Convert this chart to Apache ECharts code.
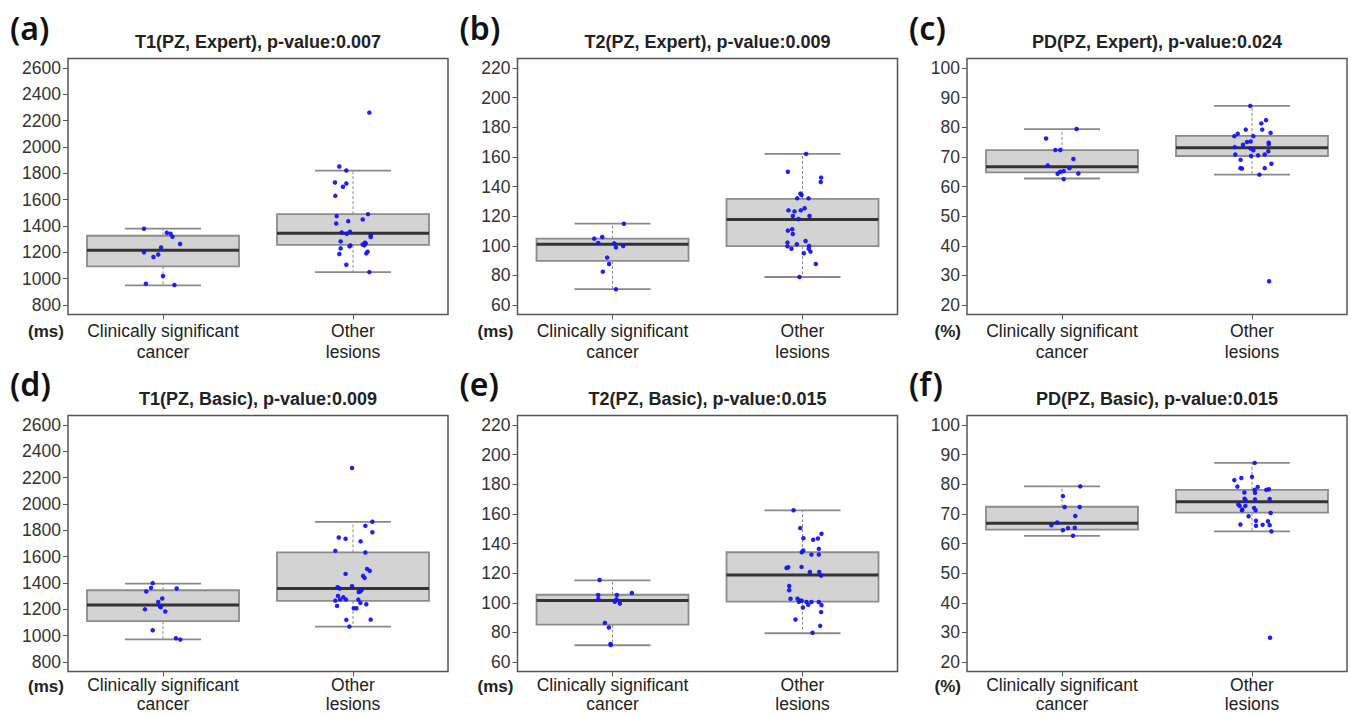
<!DOCTYPE html>
<html>
<head>
<meta charset="utf-8">
<script src="https://cdn.jsdelivr.net/npm/echarts@6/dist/echarts.min.js"></script>
<style>
html,body{margin:0;padding:0;background:#ffffff;}
#chart{width:1351px;height:715px;}
</style>
</head>
<body>
<div id="chart"></div>
<script>
// ---------------- DATA ----------------
const categories = ['Clinically significant\ncancer', 'Other\nlesions'];
const panelLetters = ['(a)', '(b)', '(c)', '(d)', '(e)', '(f)'];
const panelTitles = [
  'T1(PZ, Expert), p-value:0.007',
  'T2(PZ, Expert), p-value:0.009',
  'PD(PZ, Expert), p-value:0.024',
  'T1(PZ, Basic), p-value:0.009',
  'T2(PZ, Basic), p-value:0.015',
  'PD(PZ, Basic), p-value:0.015'
];
const unitLabels = ['(ms)', '(ms)', '(%)', '(ms)', '(ms)', '(%)'];
const yMin = [800, 60, 20, 800, 60, 20];
const yMax = [2600, 220, 100, 2600, 220, 100];
const yStep = [200, 20, 10, 200, 20, 10];

// box statistics [lower whisker, Q1, median, Q3, upper whisker]
const boxT1ExpertCancer = [949, 1094, 1216, 1326, 1380];
const boxT1ExpertOther  = [1050, 1257, 1344, 1490, 1820];
const boxT2ExpertCancer = [70.7, 89.8, 101.0, 104.8, 114.9];
const boxT2ExpertOther  = [78.9, 99.7, 117.8, 131.6, 162.0];
const boxPDExpertCancer = [62.7, 64.8, 66.7, 72.3, 79.4];
const boxPDExpertOther  = [64.0, 70.3, 73.1, 77.1, 87.2];
const boxT1BasicCancer  = [972, 1110, 1232, 1345, 1396];
const boxT1BasicOther   = [1069, 1264, 1359, 1632, 1865];
const boxT2BasicCancer  = [71.3, 85.2, 101.6, 105.4, 115.1];
const boxT2BasicOther   = [79.4, 100.7, 118.8, 134.1, 162.4];
const boxPDBasicCancer  = [62.6, 64.7, 66.8, 72.4, 79.3];
const boxPDBasicOther   = [64.1, 70.4, 74.1, 78.1, 87.2];

// individual lesions (values) and their horizontal jitter (category units)
const t1ExpertCancer = [1379, 1349, 1341, 1318, 1263, 1237, 1200, 1184, 1164, 1020, 962, 952];
const t1ExpertCancerJit = [-0.10, 0.02, 0.04, 0.05, 0.09, -0.01, -0.10, -0.025, -0.05, 0.0, -0.09, 0.06];
const t1ExpertOther = [2261, 1852, 1821, 1730, 1723, 1698, 1629, 1490, 1475, 1450, 1437, 1419, 1351, 1356, 1341, 1328, 1316, 1283, 1253, 1245, 1273, 1260, 1253, 1268, 1230, 1205, 1192, 1187, 1106, 1050];
const t1ExpertOtherJit = [0.086, -0.072, -0.035, -0.095, -0.035, -0.053, -0.093, 0.079, -0.086, 0.051, -0.025, -0.088, -0.06, -0.016, -0.033, 0.093, 0.093, -0.065, -0.014, -0.018, 0.063, 0.051, 0.06, 0.067, -0.065, 0.077, 0.07, -0.072, -0.035, 0.086];

const t2ExpertCancer = [114.9, 104.8, 105.9, 101.9, 101.6, 98.9, 99.8, 92.0, 87.7, 82.5, 70.6];
const t2ExpertCancerJit = [0.06, -0.096, -0.054, -0.075, 0.009, 0.018, 0.056, -0.028, -0.018, -0.051, 0.018];
const t2ExpertOther = [162, 150.0, 146.0, 143.0, 135.2, 134.3, 132.0, 132.0, 123.9, 123.2, 123.9, 125.3, 120.1, 120.1, 118.1, 110.2, 111.1, 107.9, 102.1, 99.6, 101.0, 103.2, 98.0, 99.8, 98.0, 96.0, 94.9, 87.7, 78.9];
const t2ExpertOtherJit = [0.019, -0.077, 0.098, 0.096, -0.011, -0.005, -0.028, 0.032, -0.074, -0.042, -0.009, 0.011, -0.051, 0.037, -0.021, -0.077, -0.054, -0.051, -0.079, -0.079, -0.03, 0.016, -0.058, 0.035, 0.033, 0.042, 0.007, 0.07, -0.016];

const pdExpertCancer = [79.4, 76.2, 72.3, 72.3, 69.3, 67.1, 66.2, 65.2, 65.0, 64.3, 64.4, 62.5];
const pdExpertCancerJit = [0.077, -0.084, -0.035, -0.009, 0.06, -0.075, 0.039, 0.009, -0.009, -0.023, 0.086, 0.009];
const pdExpertOther = [87.2, 82.4, 81.3, 79.2, 79.2, 78.1, 77.8, 77.0, 77.0, 75.0, 75.2, 74.1, 74.8, 74.3, 73.3, 72.8, 72.2, 71.9, 70.8, 70.3, 70.5, 70.8, 69.0, 66.2, 66.1, 66.2, 67.7, 64.0, 28.0];
const pdExpertOtherJit = [-0.009, 0.074, 0.049, 0.054, -0.033, 0.098, -0.075, -0.093, 0.007, -0.026, -0.007, -0.047, 0.088, 0.088, -0.091, -0.007, 0.007, 0.086, -0.088, -0.005, 0.032, 0.067, -0.06, -0.061, -0.053, 0.067, 0.102, 0.039, 0.09];

const t1BasicCancer = [1399, 1363, 1335, 1358, 1282, 1256, 1223, 1216, 1200, 1183, 1041, 980, 970];
const t1BasicCancerJit = [-0.054, -0.063, -0.088, 0.072, -0.004, -0.025, -0.016, -0.012, -0.095, 0.012, -0.054, 0.068, 0.091];
const t1BasicOther = [2273, 1865, 1834, 1786, 1746, 1736, 1716, 1644, 1632, 1507, 1492, 1469, 1454, 1439, 1368, 1358, 1375, 1348, 1332, 1337, 1302, 1292, 1274, 1274, 1266, 1274, 1249, 1239, 1226, 1208, 1208, 1120, 1122, 1069];
const t1BasicOtherJit = [-0.005, 0.102, 0.065, 0.102, -0.075, -0.039, 0.04, -0.093, 0.065, 0.074, 0.088, -0.039, 0.053, 0.061, -0.081, -0.07, -0.005, 0.046, 0.03, 0.039, -0.079, -0.051, -0.037, -0.068, -0.093, 0.028, 0.039, 0.07, -0.084, 0.004, 0.018, -0.035, 0.093, -0.019];

const t2BasicCancer = [115.4, 105.2, 102.5, 105.2, 106.6, 102.3, 100.7, 101.4, 99.5, 86.4, 83.3, 72.2, 71.5];
const t2BasicCancerJit = [-0.068, -0.075, -0.075, 0.023, 0.102, 0.021, 0.012, 0.014, 0.039, -0.04, -0.019, -0.011, -0.009];
const t2BasicOther = [162.4, 150.4, 143.6, 146.6, 143.4, 142.5, 136.4, 135.3, 134.1, 132.5, 132.5, 123.5, 124.0, 124.2, 120.8, 120.8, 118.3, 111.3, 108.4, 102.7, 102.7, 101.4, 100.7, 101.4, 100.5, 98.6, 100.5, 100.5, 98.4, 96.8, 93.7, 88.7, 84.4, 79.7];
const t2BasicOtherJit = [-0.047, -0.012, 0.005, 0.1, 0.081, 0.056, 0.086, 0.004, -0.004, 0.047, 0.086, -0.084, -0.075, -0.005, 0.039, 0.088, 0.098, -0.07, -0.07, -0.063, -0.026, -0.011, -0.019, -0.004, 0.021, 0.03, 0.047, 0.086, 0.1, 0.002, 0.098, -0.037, 0.093, 0.053];

const pdBasicCancer = [79.3, 76.0, 72.3, 72.3, 69.3, 67.1, 66.2, 65.2, 65.3, 64.5, 62.6];
const pdBasicCancerJit = [0.096, 0.005, 0.014, 0.093, 0.07, -0.025, -0.056, 0.032, 0.067, 0.005, 0.058];
const pdBasicOther = [87.2, 81.4, 82.1, 82.5, 79.2, 79.1, 78.1, 78.1, 78.3, 77.2, 77.1, 75.1, 74.5, 74.9, 75.0, 73.2, 72.7, 71.5, 72.7, 72.0, 71.2, 71.2, 70.3, 69.2, 67.7, 67.5, 66.4, 66.0, 66.3, 66.2, 64.1, 28.2];
const pdBasicOtherJit = [0.014, -0.093, -0.056, 0, -0.077, 0.03, 0.014, 0.075, 0.089, -0.04, 0.016, -0.039, -0.033, 0.016, 0.093, -0.072, -0.065, -0.051, -0.035, 0.011, 0.019, -0.053, 0.098, -0.018, 0.021, 0.084, -0.061, 0.021, 0.056, 0.093, 0.102, 0.095];

// ---------------- ASSEMBLY ----------------
const panels = [
  {boxes: [boxT1ExpertCancer, boxT1ExpertOther], pts: [[t1ExpertCancer, t1ExpertCancerJit], [t1ExpertOther, t1ExpertOtherJit]]},
  {boxes: [boxT2ExpertCancer, boxT2ExpertOther], pts: [[t2ExpertCancer, t2ExpertCancerJit], [t2ExpertOther, t2ExpertOtherJit]]},
  {boxes: [boxPDExpertCancer, boxPDExpertOther], pts: [[pdExpertCancer, pdExpertCancerJit], [pdExpertOther, pdExpertOtherJit]]},
  {boxes: [boxT1BasicCancer, boxT1BasicOther], pts: [[t1BasicCancer, t1BasicCancerJit], [t1BasicOther, t1BasicOtherJit]]},
  {boxes: [boxT2BasicCancer, boxT2BasicOther], pts: [[t2BasicCancer, t2BasicCancerJit], [t2BasicOther, t2BasicOtherJit]]},
  {boxes: [boxPDBasicCancer, boxPDBasicOther], pts: [[pdBasicCancer, pdBasicCancerJit], [pdBasicOther, pdBasicOtherJit]]}
];

const FONT = "'Liberation Sans', Arial, Helvetica, sans-serif";
const colLeft = [68, 517.5, 967];
const frameW = 380;
const rowInnerTop = [68, 425];
const innerH = 237;
const pad = innerH * 0.04;
const rowLabelMargin = [6, 4];
const rowLabelLineHeight = [21, 19];
const rowUnitGap = [8.5, 7];

function renderBox(params, api) {
  const x = api.value(0);
  const pLo = api.coord([x, api.value(1)]);
  const pQ1 = api.coord([x, api.value(2)]);
  const pMd = api.coord([x, api.value(3)]);
  const pQ3 = api.coord([x, api.value(4)]);
  const pHi = api.coord([x, api.value(5)]);
  const unit = api.size([1, 0])[0];
  const bw = unit * 0.8, cw = unit * 0.4;
  const cx = pMd[0];
  const whisker = {stroke: '#8a8a8a', lineWidth: 1, lineDash: [3, 2], fill: null};
  const cap = {stroke: '#8a8a8a', lineWidth: 1.8, fill: null};
  return {
    type: 'group',
    children: [
      {type: 'line', shape: {x1: cx, y1: pQ3[1], x2: cx, y2: pHi[1]}, style: whisker},
      {type: 'line', shape: {x1: cx, y1: pQ1[1], x2: cx, y2: pLo[1]}, style: whisker},
      {type: 'line', shape: {x1: cx - cw / 2, y1: pHi[1], x2: cx + cw / 2, y2: pHi[1]}, style: cap},
      {type: 'line', shape: {x1: cx - cw / 2, y1: pLo[1], x2: cx + cw / 2, y2: pLo[1]}, style: cap},
      {type: 'rect', shape: {x: cx - bw / 2, y: pQ3[1], width: bw, height: pQ1[1] - pQ3[1]},
        style: {fill: '#d3d3d3', stroke: '#8c8c8c', lineWidth: 1.8}},
      {type: 'line', shape: {x1: cx - bw / 2, y1: pMd[1], x2: cx + bw / 2, y2: pMd[1]},
        style: {stroke: '#333333', lineWidth: 3, fill: null}}
    ]
  };
}

const grid = [], xAxis = [], yAxis = [], series = [], title = [];
panels.forEach((p, i) => {
  const col = i % 3, row = Math.floor(i / 3);
  const left = colLeft[col];
  const top = rowInnerTop[row];
  const gFrame = grid.length;
  grid.push({left: left, top: top - pad, width: frameW, height: innerH + 2 * pad,
    show: true, borderColor: '#555555', borderWidth: 1.5, backgroundColor: 'transparent',
    outerBoundsMode: 'none', containLabel: false});
  const gInner = grid.length;
  grid.push({left: left, top: top, width: frameW, height: innerH, outerBoundsMode: 'none', containLabel: false});

  xAxis.push({gridIndex: gFrame, type: 'value', min: 0, max: 1, show: false});
  xAxis.push({gridIndex: gInner, type: 'category', data: categories, offset: pad, position: 'bottom',
    axisLine: {show: false, onZero: false},
    axisTick: {show: true, alignWithLabel: true, length: 5, lineStyle: {color: '#555555', width: 1}},
    axisLabel: {interval: 0, margin: rowLabelMargin[row], fontSize: 17.5, lineHeight: rowLabelLineHeight[row],
      color: '#222222', fontFamily: FONT},
    splitLine: {show: false}});
  const xVal = xAxis.length;
  xAxis.push({gridIndex: gInner, type: 'value', min: -0.5, max: 1.5, show: false,
    axisLine: {onZero: false}});

  yAxis.push({gridIndex: gFrame, type: 'value', min: 0, max: 1, show: false});
  const yVal = yAxis.length;
  yAxis.push({gridIndex: gInner, type: 'value', min: yMin[i], max: yMax[i], interval: yStep[i], position: 'left',
    axisLine: {show: false, onZero: false},
    axisTick: {show: true, inside: false, length: 5, lineStyle: {color: '#555555', width: 1}},
    axisLabel: {margin: 7, fontSize: 17.5, color: '#333333', fontFamily: FONT,
      formatter: (v) => String(v)},
    splitLine: {show: false}});

  series.push({
    type: 'custom', xAxisIndex: xVal, yAxisIndex: yVal,
    renderItem: renderBox,
    encode: {x: 0, y: [1, 2, 3, 4, 5]},
    data: p.boxes.map((b, k) => [k].concat(b)),
    z: 2, silent: true
  });
  series.push({
    type: 'scatter', xAxisIndex: xVal, yAxisIndex: yVal,
    symbol: 'circle', symbolSize: 4.5,
    itemStyle: {color: '#1414ff', opacity: 0.95},
    data: p.pts.flatMap((pp, k) => pp[0].map((v, j) => [k + pp[1][j], v])),
    z: 5, silent: true
  });

  const frameBottom = top + innerH + pad;
  title.push({text: panelLetters[i], left: left - 58, top: row === 0 ? 11 : 367, padding: 0,
    textStyle: {fontFamily: "'Noto Sans', 'DejaVu Sans', sans-serif", fontSize: 32, fontWeight: 600, color: '#111111'}});
  title.push({text: panelTitles[i], left: left + frameW / 2, textAlign: 'center', top: row === 0 ? 33 : 390, padding: 0,
    textStyle: {fontFamily: FONT, fontSize: 18, fontWeight: 'bold', color: '#222222'}});
  title.push({text: unitLabels[i], left: left - (unitLabels[i] === '(%)' ? 6 : 4), textAlign: 'right',
    top: frameBottom + rowUnitGap[row], padding: 0,
    textStyle: {fontFamily: FONT, fontSize: 17, fontWeight: 'bold', color: '#222222'}});
});

const chart = echarts.init(document.getElementById('chart'), null, {renderer: 'svg'});
chart.setOption({
  backgroundColor: '#ffffff',
  animation: false,
  title: title,
  grid: grid,
  xAxis: xAxis,
  yAxis: yAxis,
  series: series
});
</script>
</body>
</html>
